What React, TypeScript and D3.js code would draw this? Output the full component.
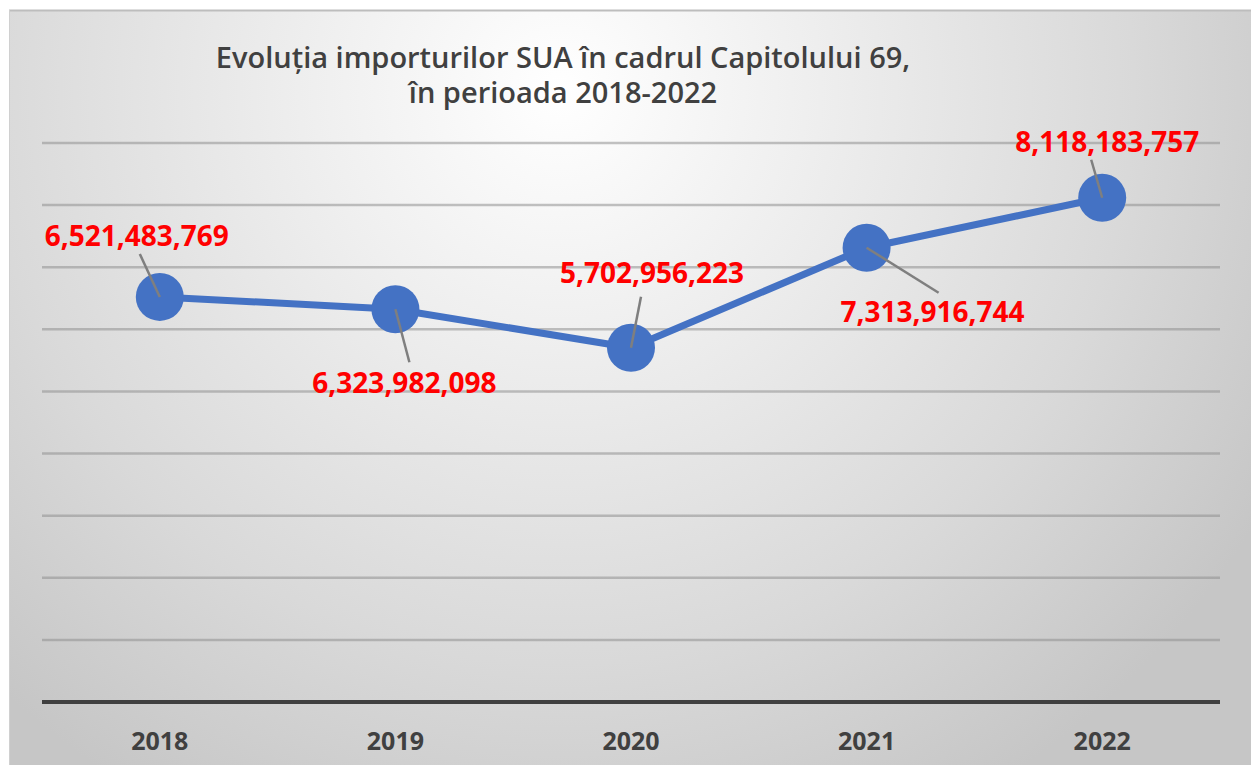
import React from "react";
import * as d3 from "d3";

const categories = ["2018", "2019", "2020", "2021", "2022"];
const values = [6521483769, 6323982098, 5702956223, 7313916744, 8118183757];
const yTicks = [0, 1e9, 2e9, 3e9, 4e9, 5e9, 6e9, 7e9, 8e9, 9e9];
const titleLines = ["Evoluția importurilor SUA în cadrul Capitolului 69,", "în perioada 2018-2022"];

// label layout (pixel offsets relative to each point)
const labelLayout = [
  { dx: -23, dy: -51, lx: -20, ly: -43 },
  { dx: 9, dy: 84, lx: 14, ly: 53 },
  { dx: 21, dy: -65, lx: 10, ly: -51 },
  { dx: 66, dy: 74, lx: 72, ly: 45 },
  { dx: 5, dy: -46, lx: -11, ly: -38 },
];

const W = 1251;
const H = 765;
const FONT = "'Open Sans', 'DejaVu Sans', sans-serif";

export default function App() {
  const x = d3.scalePoint<string>().domain(categories).range([42, 1220]).padding(0.5);
  const y = d3.scaleLinear().domain([0, 9e9]).range([702, 143]);
  const line = d3
    .line<number>()
    .x((_, i) => x(categories[i]) as number)
    .y((d) => y(d));
  const fmt = d3.format(",");

  return (
    <svg
      width={W}
      height={H}
      style={{ position: "absolute", left: 0, top: 0, display: "block" }}
      fontFamily={FONT}
    >
      <defs>
        <radialGradient id="bg" cx="560" cy="90" r="820" gradientUnits="userSpaceOnUse">
          <stop offset="0" stopColor="#ffffff" />
          <stop offset="0.3" stopColor="#efefef" />
          <stop offset="0.7" stopColor="#d9d9d9" />
          <stop offset="1" stopColor="#c6c6c6" />
        </radialGradient>
      </defs>
      <rect x={0} y={0} width={W} height={H} fill="#ffffff" />
      <rect x={9} y={10} width={W} height={H} fill="url(#bg)" />
      <line x1={9} x2={W} y1={10.5} y2={10.5} stroke="#bdbdbd" strokeWidth={2} />
      <line x1={9.5} x2={9.5} y1={10} y2={H} stroke="#d0d0d0" strokeWidth={1} />

      {/* title */}
      <text fill="#404040" fontWeight={600} fontSize={29} textAnchor="middle">
        <tspan x={563} y={68}>{titleLines[0]}</tspan>
        <tspan x={563} y={103}>{titleLines[1]}</tspan>
      </text>

      {/* gridlines */}
      {yTicks.slice(1).map((t) => (
        <line
          key={t}
          x1={42}
          x2={1220}
          y1={y(t)}
          y2={y(t)}
          stroke="#8f8f8f"
          strokeOpacity={0.55}
          strokeWidth={2.5}
        />
      ))}
      {/* axis */}
      <line x1={42} x2={1220} y1={y(0)} y2={y(0)} stroke="#404040" strokeWidth={4} />
      {categories.map((c) => (
        <text
          key={c}
          x={x(c)}
          y={750}
          textAnchor="middle"
          fill="#404040"
          fontWeight={700}
          fontSize={25}
        >
          {c}
        </text>
      ))}

      {/* series */}
      <path d={line(values) || ""} fill="none" stroke="#4472C4" strokeWidth={7} strokeLinejoin="round" />
      {values.map((v, i) => (
        <circle key={i} cx={x(categories[i])} cy={y(v)} r={24} fill="#4472C4" />
      ))}

      {/* leaders and labels */}
      {values.map((v, i) => {
        const px = x(categories[i]) as number;
        const py = y(v);
        const L = labelLayout[i];
        return (
          <g key={i}>
            <line x1={px} y1={py} x2={px + L.lx} y2={py + L.ly} stroke="#7f7f7f" strokeWidth={2.5} />
            <text
              x={px + L.dx}
              y={py + L.dy}
              textAnchor="middle"
              fill="#ff0000"
              fontWeight={700}
              fontSize={28}
            >
              {fmt(v)}
            </text>
          </g>
        );
      })}
    </svg>
  );
}
